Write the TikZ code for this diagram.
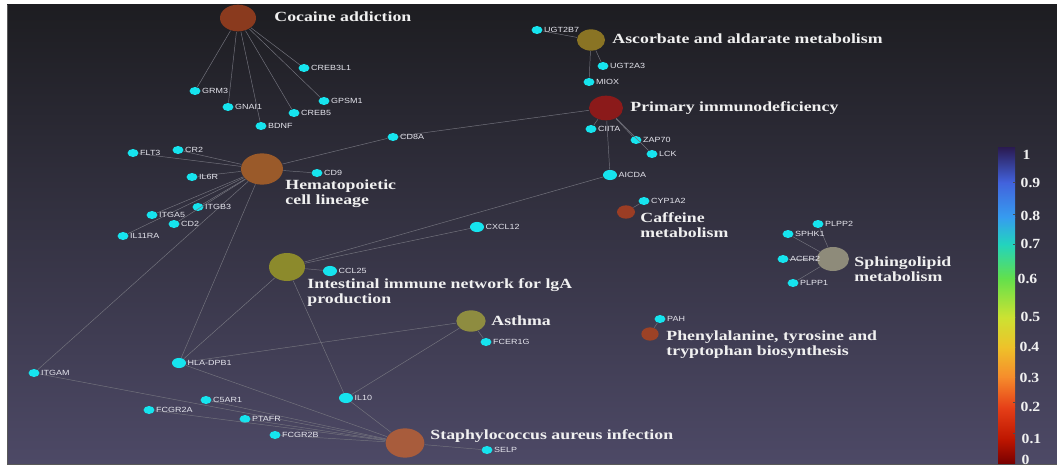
\documentclass[tikz,border=0pt]{standalone}
\usepackage{fontspec}
\setmainfont{Liberation Serif}
\newfontfamily\genefont{Liberation Sans}
\usetikzlibrary{shapes.geometric}

\definecolor{bgtop}{HTML}{1D1D21}
\definecolor{bgbot}{HTML}{4D4966}
\definecolor{genec}{HTML}{16E4EE}
\definecolor{genetxtc}{HTML}{E6E6EE}
\definecolor{pathtxtc}{HTML}{F0F0F0}
\definecolor{linkc}{HTML}{74747E}
\definecolor{cocainec}{HTML}{8A3A1E}
\definecolor{ascorbc}{HTML}{8A7424}
\definecolor{primaryc}{HTML}{8B1A1A}
\definecolor{hematoc}{HTML}{9A5A2A}
\definecolor{caffeinec}{HTML}{9B3D24}
\definecolor{sphingoc}{HTML}{8E8B7A}
\definecolor{intestc}{HTML}{8C8A2C}
\definecolor{asthmac}{HTML}{8E8C40}
\definecolor{phenylc}{HTML}{9C4226}
\definecolor{staphc}{HTML}{A85C3C}

\tikzset{every picture/.style={line width=0.75pt}}
\tikzset{
  pathnode/.style={ellipse, inner sep=0pt, draw=none},
  genenode/.style={ellipse, fill=genec, inner sep=0pt, minimum width=8.2pt, minimum height=6pt},
  genebig/.style={genenode, minimum width=10.5pt, minimum height=7.6pt},
  genetxt/.style={anchor=west, inner sep=0.4pt, text=genetxtc, font=\genefont\fontsize{5.6}{6}\selectfont, xscale=1.2},
  pathtxt/.style={anchor=west, inner sep=0.5pt, text=pathtxtc, font=\bfseries\fontsize{10.5}{11.25}\selectfont, align=left, xscale=1.27},
  bartxt/.style={anchor=west, inner sep=0.75pt, text=pathtxtc, font=\bfseries\fontsize{10.5}{11}\selectfont, xscale=1.12},
  link/.style={draw=linkc, line width=0.35pt}
}

\begin{document}
\begin{tikzpicture}[x=0.75pt,y=0.75pt,yscale=-1,xscale=1]
\useasboundingbox (0,0) rectangle (1057,467);

%Shape: Rectangle [background]
\fill [white] (0,0) rectangle (1057,467);
\shade [top color=bgtop, bottom color=bgbot] (7,5) rectangle (1057,464);
\draw [gray!70!black, line width=0.6pt] (7,5) -- (7,464) -- (1057,464);

%Shape: Ellipse [pathways]
\node (cocaine) [pathnode, fill=cocainec, minimum width=27pt, minimum height=20pt] at (238,18) {};
\node (ascorb) [pathnode, fill=ascorbc, minimum width=21pt, minimum height=16pt] at (591,40) {};
\node (primary) [pathnode, fill=primaryc, minimum width=25.5pt, minimum height=18.5pt] at (606,108) {};
\node (hemato) [pathnode, fill=hematoc, minimum width=31.5pt, minimum height=23.5pt] at (262,169) {};
\node (caffeine) [pathnode, fill=caffeinec, minimum width=13.5pt, minimum height=10pt] at (626,212) {};
\node (sphingo) [pathnode, fill=sphingoc, minimum width=24pt, minimum height=18pt] at (833,259) {};
\node (intest) [pathnode, fill=intestc, minimum width=27pt, minimum height=21pt] at (287,267) {};
\node (asthma) [pathnode, fill=asthmac, minimum width=22pt, minimum height=16pt] at (471,321) {};
\node (phenyl) [pathnode, fill=phenylc, minimum width=13pt, minimum height=10pt] at (650,334) {};
\node (staph) [pathnode, fill=staphc, minimum width=29pt, minimum height=22pt] at (405,443) {};

%Shape: Ellipse [genes]
\node (ugt2b7) [genenode] at (537,30) {};
\node (ugt2a3) [genenode] at (603,66) {};
\node (miox) [genenode] at (589,82) {};
\node (creb3l1) [genenode] at (304,68) {};
\node (grm3) [genenode] at (195,91) {};
\node (gnai1) [genenode] at (228,107) {};
\node (gpsm1) [genenode] at (324,101) {};
\node (creb5) [genenode] at (294,113) {};
\node (bdnf) [genenode] at (261,126) {};
\node (cd8a) [genenode] at (393,137) {};
\node (ciita) [genenode] at (591,129) {};
\node (zap70) [genenode] at (636,140) {};
\node (lck) [genenode] at (652,154) {};
\node (flt3) [genenode] at (133,153) {};
\node (cr2) [genenode] at (178,150) {};
\node (il6r) [genenode] at (192,177) {};
\node (cd9) [genenode] at (317,173) {};
\node (aicda) [genebig] at (610,175) {};
\node (cyp1a2) [genenode] at (644,201) {};
\node (itgb3) [genenode] at (198,207) {};
\node (itga5) [genenode] at (152,215) {};
\node (cd2) [genenode] at (174,224) {};
\node (il11ra) [genenode] at (123,236) {};
\node (cxcl12) [genebig] at (477,227) {};
\node (plpp2) [genenode] at (818,224) {};
\node (sphk1) [genenode] at (788,234) {};
\node (acer2) [genenode] at (783,259) {};
\node (plpp1) [genenode] at (793,283) {};
\node (ccl25) [genebig] at (330,271) {};
\node (pah) [genenode] at (660,319) {};
\node (fcer1g) [genenode] at (486,342) {};
\node (hladpb1) [genebig] at (179,363) {};
\node (itgam) [genenode] at (34,373) {};
\node (c5ar1) [genenode] at (206,400) {};
\node (il10) [genebig] at (346,398) {};
\node (fcgr2a) [genenode] at (149,410) {};
\node (ptafr) [genenode] at (245,419) {};
\node (fcgr2b) [genenode] at (275,435) {};
\node (selp) [genenode] at (487,450) {};

%Straight Lines
\draw [link] (cocaine) -- (grm3);
\draw [link] (cocaine) -- (gnai1);
\draw [link] (cocaine) -- (bdnf);
\draw [link] (cocaine) -- (creb5);
\draw [link] (cocaine) -- (gpsm1);
\draw [link] (cocaine) -- (creb3l1);
\draw [link] (ascorb) -- (ugt2b7);
\draw [link] (ascorb) -- (ugt2a3);
\draw [link] (ascorb) -- (miox);
\draw [link] (primary) -- (ciita);
\draw [link] (primary) -- (zap70);
\draw [link] (primary) -- (lck);
\draw [link] (primary) -- (aicda);
\draw [link] (primary) -- (cd8a);
\draw [link] (hemato) -- (cd8a);
\draw [link] (hemato) -- (cd9);
\draw [link] (hemato) -- (flt3);
\draw [link] (hemato) -- (cr2);
\draw [link] (hemato) -- (il6r);
\draw [link] (hemato) -- (itgb3);
\draw [link] (hemato) -- (itga5);
\draw [link] (hemato) -- (cd2);
\draw [link] (hemato) -- (il11ra);
\draw [link] (hemato) -- (itgam);
\draw [link] (hemato) -- (hladpb1);
\draw [link] (caffeine) -- (cyp1a2);
\draw [link] (sphingo) -- (plpp2);
\draw [link] (sphingo) -- (sphk1);
\draw [link] (sphingo) -- (acer2);
\draw [link] (sphingo) -- (plpp1);
\draw [link] (intest) -- (ccl25);
\draw [link] (intest) -- (cxcl12);
\draw [link] (intest) -- (aicda);
\draw [link] (intest) -- (hladpb1);
\draw [link] (intest) -- (il10);
\draw [link] (asthma) -- (fcer1g);
\draw [link] (asthma) -- (hladpb1);
\draw [link] (asthma) -- (il10);
\draw [link] (phenyl) -- (pah);
\draw [link] (staph) -- (selp);
\draw [link] (staph) -- (il10);
\draw [link] (staph) -- (hladpb1);
\draw [link] (staph) -- (itgam);
\draw [link] (staph) -- (c5ar1);
\draw [link] (staph) -- (fcgr2a);
\draw [link] (staph) -- (ptafr);
\draw [link] (staph) -- (fcgr2b);

% Text Node [genes]
\node (ugt2b7-t) [genetxt] at (ugt2b7.east) {UGT2B7};
\node (ugt2a3-t) [genetxt] at (ugt2a3.east) {UGT2A3};
\node (miox-t) [genetxt] at (miox.east) {MIOX};
\node (creb3l1-t) [genetxt] at (creb3l1.east) {CREB3L1};
\node (grm3-t) [genetxt] at (grm3.east) {GRM3};
\node (gnai1-t) [genetxt] at (gnai1.east) {GNAI1};
\node (gpsm1-t) [genetxt] at (gpsm1.east) {GPSM1};
\node (creb5-t) [genetxt] at (creb5.east) {CREB5};
\node (bdnf-t) [genetxt] at (bdnf.east) {BDNF};
\node (cd8a-t) [genetxt] at (cd8a.east) {CD8A};
\node (ciita-t) [genetxt] at (ciita.east) {CIITA};
\node (zap70-t) [genetxt] at (zap70.east) {ZAP70};
\node (lck-t) [genetxt] at (lck.east) {LCK};
\node (flt3-t) [genetxt] at (flt3.east) {FLT3};
\node (cr2-t) [genetxt] at (cr2.east) {CR2};
\node (il6r-t) [genetxt] at (il6r.east) {IL6R};
\node (cd9-t) [genetxt] at (cd9.east) {CD9};
\node (aicda-t) [genetxt] at (aicda.east) {AICDA};
\node (cyp1a2-t) [genetxt] at (cyp1a2.east) {CYP1A2};
\node (itgb3-t) [genetxt] at (itgb3.east) {ITGB3};
\node (itga5-t) [genetxt] at (itga5.east) {ITGA5};
\node (cd2-t) [genetxt] at (cd2.east) {CD2};
\node (il11ra-t) [genetxt] at (il11ra.east) {IL11RA};
\node (cxcl12-t) [genetxt] at (cxcl12.east) {CXCL12};
\node (plpp2-t) [genetxt] at (plpp2.east) {PLPP2};
\node (sphk1-t) [genetxt] at (sphk1.east) {SPHK1};
\node (acer2-t) [genetxt] at (acer2.east) {ACER2};
\node (plpp1-t) [genetxt] at (plpp1.east) {PLPP1};
\node (ccl25-t) [genetxt] at (ccl25.east) {CCL25};
\node (pah-t) [genetxt] at (pah.east) {PAH};
\node (fcer1g-t) [genetxt] at (fcer1g.east) {FCER1G};
\node (hladpb1-t) [genetxt] at (hladpb1.east) {HLA-DPB1};
\node (itgam-t) [genetxt] at (itgam.east) {ITGAM};
\node (c5ar1-t) [genetxt] at (c5ar1.east) {C5AR1};
\node (il10-t) [genetxt] at (il10.east) {IL10};
\node (fcgr2a-t) [genetxt] at (fcgr2a.east) {FCGR2A};
\node (ptafr-t) [genetxt] at (ptafr.east) {PTAFR};
\node (fcgr2b-t) [genetxt] at (fcgr2b.east) {FCGR2B};
\node (selp-t) [genetxt] at (selp.east) {SELP};

% Text Node [pathways]
\node (cocaine-t) [pathtxt] at (273,17) {Cocaine addiction};
\node (ascorb-t) [pathtxt] at (611,39) {Ascorbate and aldarate metabolism};
\node (primary-t) [pathtxt] at (629,108) {Primary immunodeficiency};
\node (hemato-t) [pathtxt] at (284,194) {Hematopoietic\\cell lineage};
\node (caffeine-t) [pathtxt] at (639,225) {Caffeine\\metabolism};
\node (sphingo-t) [pathtxt] at (853,269) {Sphingolipid\\metabolism};
\node (intest-t) [pathtxt] at (306,293) {Intestinal immune network for lgA\\production};
\node (asthma-t) [pathtxt] at (490,321) {Asthma};
\node (phenyl-t) [pathtxt] at (665,345) {Phenylalanine, tyrosine and\\tryptophan biosynthesis};
\node (staph-t) [pathtxt] at (429,436) {Staphylococcus aureus infection};

%Shape: Rectangle [colour bar]
\definecolor{cb0}{HTML}{7A0000}
\definecolor{cb1}{HTML}{BE1600}
\definecolor{cb2}{HTML}{E64018}
\definecolor{cb3}{HTML}{F68C2C}
\definecolor{cb4}{HTML}{EEC22A}
\definecolor{cb5}{HTML}{CCE232}
\definecolor{cb6}{HTML}{62E04C}
\definecolor{cb7}{HTML}{22D4BE}
\definecolor{cb8}{HTML}{369CF0}
\definecolor{cb9}{HTML}{4262DC}
\definecolor{cb10}{HTML}{2A1A50}
\shade [bottom color=cb0, top color=cb1] (998,463) rectangle (1015,439);
\shade [bottom color=cb1, top color=cb2] (998,439.3) rectangle (1015,407);
\shade [bottom color=cb2, top color=cb3] (998,407.3) rectangle (1015,377);
\shade [bottom color=cb3, top color=cb4] (998,377.3) rectangle (1015,347);
\shade [bottom color=cb4, top color=cb5] (998,347.3) rectangle (1015,317);
\shade [bottom color=cb5, top color=cb6] (998,317.3) rectangle (1015,278);
\shade [bottom color=cb6, top color=cb7] (998,278.3) rectangle (1015,244);
\shade [bottom color=cb7, top color=cb8] (998,244.3) rectangle (1015,217);
\shade [bottom color=cb8, top color=cb9] (998,217.3) rectangle (1015,182);
\shade [bottom color=cb9, top color=cb10] (998,182.3) rectangle (1015,147);
%Straight Lines [ticks]
\draw [black!70, line width=0.5pt] (1013,182) -- (1015,182);
\draw [black!70, line width=0.5pt] (1013,214) -- (1015,214);
\draw [black!70, line width=0.5pt] (1013,244) -- (1015,244);
\draw [black!70, line width=0.5pt] (1013,402) -- (1015,402);
\draw [black!70, line width=0.5pt] (1013,433) -- (1015,433);

% Text Node [colour bar]
\node (bar10) [bartxt] at (1021,155) {1};
\node (bar9) [bartxt] at (1019,183) {0.9};
\node (bar8) [bartxt] at (1019,216) {0.8};
\node (bar7) [bartxt] at (1019,244) {0.7};
\node (bar6) [bartxt] at (1016,279) {0.6};
\node (bar5) [bartxt] at (1019,317) {0.5};
\node (bar4) [bartxt] at (1018,347) {0.4};
\node (bar3) [bartxt] at (1018,378) {0.3};
\node (bar2) [bartxt] at (1019,407) {0.2};
\node (bar1) [bartxt] at (1020,439) {0.1};
\node (bar0) [bartxt] at (1020,460) {0};
\end{tikzpicture}
\end{document}
